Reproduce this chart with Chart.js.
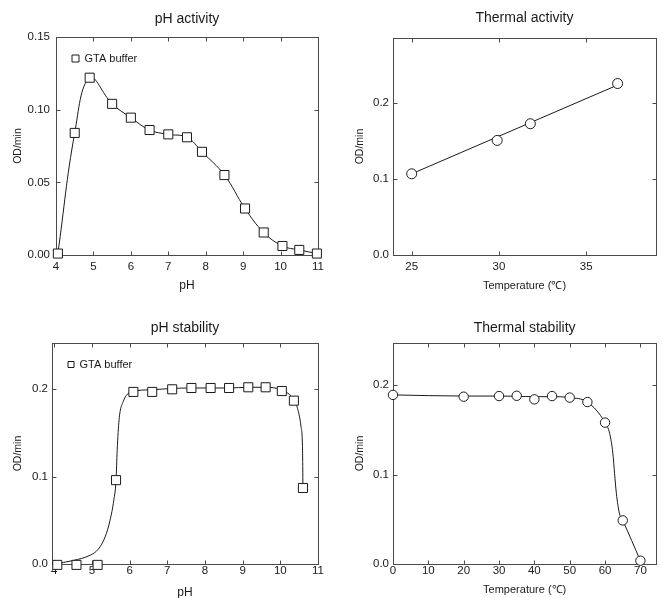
<!DOCTYPE html>
<html>
<head>
<meta charset="utf-8">
<script src="https://cdn.jsdelivr.net/npm/chart.js@4.4.1/dist/chart.umd.min.js"></script>
<style>
  body { margin: 0; background: #fff; }
  #wrap { position: relative; width: 662px; height: 598px; }
  canvas { position: absolute; }
</style>
</head>
<body>
<div id="wrap">
  <canvas id="phAct" width="331" height="300" style="left:0;top:0"></canvas>
  <canvas id="thAct" width="331" height="300" style="left:331px;top:0"></canvas>
  <canvas id="phStab" width="331" height="298" style="left:0;top:300px"></canvas>
  <canvas id="thStab" width="331" height="298" style="left:331px;top:300px"></canvas>
</div>
<script>
// pH activity (GTA buffer)
var phActX = [4.05, 4.5, 4.9, 5.5, 6.0, 6.5, 7.0, 7.5, 7.9, 8.5, 9.05, 9.55, 10.05, 10.5, 10.97];
var phActY = [0.001, 0.084, 0.122, 0.104, 0.0945, 0.086, 0.083, 0.081, 0.071, 0.055, 0.032, 0.0155, 0.0062, 0.0035, 0.001];

// thermal activity + fitted line
var thActX = [25, 29.9, 31.8, 36.8];
var thActY = [0.107, 0.151, 0.173, 0.226];
var thFitX = [25, 36.8];
var thFitY = [0.107, 0.224];

// pH stability (GTA buffer) + smooth curve
var phStabX = [4.08, 4.59, 5.15, 5.64, 6.1, 6.6, 7.13, 7.64, 8.15, 8.64, 9.15, 9.61, 10.04, 10.36, 10.6];
var phStabY = [-0.001, -0.001, -0.001, 0.096, 0.197, 0.197, 0.2, 0.2015, 0.2015, 0.2015, 0.2023, 0.2023, 0.198, 0.187, 0.087];
var phCurveX = [4.0, 4.5, 4.95, 5.17, 5.35, 5.48, 5.58, 5.64, 5.67, 5.72, 5.83, 6.05, 6.6, 7.13, 7.64, 8.15, 8.64, 9.15, 9.61, 10.04, 10.36, 10.47, 10.55, 10.59, 10.6];
var phCurveY = [0.0, 0.004, 0.01, 0.017, 0.031, 0.05, 0.073, 0.096, 0.13, 0.165, 0.186, 0.197, 0.1995, 0.201, 0.2015, 0.2015, 0.2015, 0.2023, 0.2023, 0.199, 0.188, 0.176, 0.157, 0.13, 0.087];

// thermal stability + curve
var thStabX = [0, 20, 30, 35, 40, 45, 50, 55, 60, 65, 70];
var thStabY = [0.189, 0.187, 0.1877, 0.188, 0.184, 0.1877, 0.186, 0.181, 0.158, 0.0487, 0.0037];
var thCurveX = [0, 20, 30, 35, 40, 45, 50, 55, 60, 61.3, 62.2, 62.7, 63.2, 64.1, 65, 70];
var thCurveY = [0.189, 0.1877, 0.1877, 0.1875, 0.187, 0.187, 0.186, 0.181, 0.158, 0.146, 0.124, 0.101, 0.079, 0.056, 0.0487, 0.0037];

// tick labels
var phTicks = [4, 5, 6, 7, 8, 9, 10, 11];
var thActTicks = [25, 30, 35];
var thStabTicks = [0, 10, 20, 30, 40, 50, 60, 70];
var phActYTicks = [0, 0.05, 0.1, 0.15];
var odTicks = [0, 0.1, 0.2];

var ink = '#1a1a1a';
var axisInk = '#4a4a4a';
Chart.defaults.font.family = '"Liberation Sans", Arial, Helvetica, sans-serif';
Chart.defaults.color = ink;

function pts(xs, ys) {
  var out = [];
  for (var i = 0; i < xs.length; i++) {
    out.push({x: xs[i], y: ys[i]});
  }
  return out;
}

// frame around the plot and inward ticks on all four sides
var boxTicks = {
  id: 'boxTicks',
  beforeDatasetsDraw: function(chart) {
    var a = chart.chartArea;
    var ctx = chart.ctx;
    var xs = chart.scales.x;
    var ys = chart.scales.y;
    var l = Math.round(a.left) + 0.5, r = Math.round(a.right) + 0.5;
    var t = Math.round(a.top) + 0.5, b = Math.round(a.bottom) + 0.5;
    var len = 4;
    ctx.save();
    ctx.strokeStyle = axisInk;
    ctx.lineWidth = 1;
    ctx.strokeRect(l, t, r - l, b - t);
    ctx.beginPath();
    xs.ticks.forEach(function(tk) {
      var px = Math.round(xs.getPixelForValue(tk.value)) + 0.5;
      ctx.moveTo(px, b); ctx.lineTo(px, b - len);
      ctx.moveTo(px, t); ctx.lineTo(px, t + len);
    });
    ys.ticks.forEach(function(tk) {
      var py = Math.round(ys.getPixelForValue(tk.value)) + 0.5;
      ctx.moveTo(l, py); ctx.lineTo(l + len, py);
      ctx.moveTo(r, py); ctx.lineTo(r - len, py);
    });
    ctx.stroke();
    ctx.restore();
  }
};

// legend with position 'chartArea' starts at the canvas top, move it into the plot
var legendInside = {
  id: 'legendInside',
  afterLayout: function(chart) {
    if (chart.legend && chart.options.plugins.legend.display) {
      chart.legend.left = chart.chartArea.left;
      chart.legend.top = chart.chartArea.top;
    }
  }
};

function markers(label, xs, ys, style, radius, withLine) {
  return {
    label: label,
    data: pts(xs, ys),
    showLine: withLine,
    tension: 0.4,
    borderColor: ink,
    borderWidth: 1,
    pointStyle: style,
    pointRadius: radius,
    pointBackgroundColor: '#fff',
    pointBorderColor: ink,
    pointBorderWidth: 1,
    clip: false
  };
}

function curve(xs, ys, mode) {
  return {
    label: '',
    data: pts(xs, ys),
    showLine: true,
    cubicInterpolationMode: mode,
    tension: 0,
    borderColor: ink,
    borderWidth: 1,
    pointRadius: 0,
    clip: false
  };
}

function panel(id, p) {
  var canvas = document.getElementById(id);
  var w = canvas.width, h = canvas.height;
  return new Chart(canvas, {
    type: 'scatter',
    data: {datasets: p.datasets},
    options: {
      responsive: false,
      animation: false,
      layout: {padding: {left: 0, top: 0, bottom: 0, right: w - p.area.right}},
      plugins: {
        tooltip: {enabled: false},
        legend: {
          display: !!p.legend,
          position: 'chartArea',
          align: 'start',
          labels: {
            usePointStyle: true,
            boxWidth: p.legendBox || 7,
            boxHeight: p.legendBox || 7,
            padding: 16,
            font: {size: 11},
            color: ink,
            filter: function(item) { return item.text === 'GTA buffer'; }
          }
        }
      },
      scales: {
        x: {
          type: 'linear',
          position: 'bottom',
          min: p.xMin,
          max: p.xMax,
          afterBuildTicks: function(s) { s.ticks = p.xTicks.map(function(v) { return {value: v}; }); },
          afterFit: function(s) { s.height = h - p.area.bottom; },
          grid: {display: false, drawTicks: false},
          border: {display: false},
          ticks: {padding: p.xTickPad, font: {size: 11.5, lineHeight: 1}, color: ink},
          title: {display: true, text: p.xTitle, font: {size: p.xTitleSize, lineHeight: 1}, padding: {top: 0, bottom: p.xTitlePad}, color: ink}
        },
        x2: {
          type: 'linear',
          position: 'top',
          afterFit: function(s) { s.height = p.area.top; },
          grid: {display: false, drawTicks: false},
          border: {display: false},
          ticks: {display: false},
          title: {display: true, text: p.title, font: {size: 14, lineHeight: 1}, padding: {top: p.titlePad, bottom: 0}, color: ink}
        },
        y: {
          type: 'linear',
          position: 'left',
          min: p.yMin,
          max: p.yMax,
          afterBuildTicks: function(s) { s.ticks = p.yTicks.map(function(v) { return {value: v}; }); },
          afterFit: function(s) { s.width = p.area.left; },
          grid: {display: false, drawTicks: false},
          border: {display: false},
          ticks: {
            padding: p.yTickPad,
            font: {size: 11.5, lineHeight: 1},
            color: ink,
            callback: function(v) { return Number(v).toFixed(p.yDigits); }
          },
          title: {display: true, text: 'OD/min', font: {size: 10.5, lineHeight: 1}, padding: {top: p.yTitlePad, bottom: 0}, color: ink}
        }
      }
    },
    plugins: [boxTicks, legendInside]
  });
}

panel('phAct', {
  title: 'pH activity', titlePad: 12,
  area: {left: 56, right: 318, top: 37, bottom: 255},
  xMin: 4, xMax: 11, xTicks: phTicks, xTitle: 'pH', xTitleSize: 12, xTitlePad: 8, xTickPad: 6,
  yMin: 0, yMax: 0.15, yTicks: phActYTicks, yDigits: 2, yTickPad: 6, yTitlePad: 13,
  legend: true, legendBox: 7,
  datasets: [markers('GTA buffer', phActX, phActY, 'rect', 6.4, true)]
});

panel('thAct', {
  title: 'Thermal activity', titlePad: 11,
  area: {left: 62, right: 326, top: 38, bottom: 255},
  xMin: 23.93, xMax: 39, xTicks: thActTicks, xTitle: 'Temperature (\u2103)', xTitleSize: 11, xTitlePad: 9, xTickPad: 6,
  yMin: 0, yMax: 0.286, yTicks: odTicks, yDigits: 1, yTickPad: 4, yTitlePad: 24,
  datasets: [
    markers('Thermal activity', thActX, thActY, 'circle', 5, false),
    curve(thFitX, thFitY, 'default')
  ]
});

panel('phStab', {
  title: 'pH stability', titlePad: 21,
  area: {left: 52, right: 318, top: 43, bottom: 264},
  xMin: 3.94, xMax: 11, xTicks: phTicks, xTitle: 'pH', xTitleSize: 12, xTitlePad: -1, xTickPad: 1,
  yMin: 0, yMax: 0.253, yTicks: odTicks, yDigits: 1, yTickPad: 4, yTitlePad: 13,
  legend: true, legendBox: 6,
  datasets: [
    markers('GTA buffer', phStabX, phStabY, 'rect', 6.4, false),
    curve(phCurveX, phCurveY, 'monotone')
  ]
});

panel('thStab', {
  title: 'Thermal stability', titlePad: 21,
  area: {left: 62, right: 326, top: 43, bottom: 264},
  xMin: 0, xMax: 74.5, xTicks: thStabTicks, xTitle: 'Temperature (\u2103)', xTitleSize: 11, xTitlePad: 2.5, xTickPad: 1,
  yMin: 0, yMax: 0.247, yTicks: odTicks, yDigits: 1, yTickPad: 4, yTitlePad: 24,
  datasets: [
    markers('Thermal stability', thStabX, thStabY, 'circle', 4.7, false),
    curve(thCurveX, thCurveY, 'monotone')
  ]
});
</script>
</body>
</html>
